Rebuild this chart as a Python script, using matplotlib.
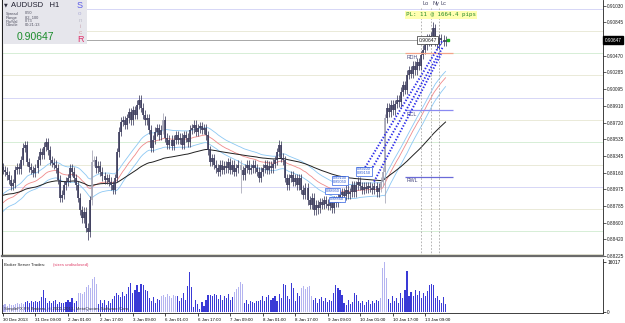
"""
AUDUSD H1 chart (MT4 style) with Sonic R dragon, session lines and broker trades panel.
"""
import numpy as np
import matplotlib.pyplot as plt
from matplotlib.patches import Rectangle

plt.rcParams['font.family'] = ['Liberation Sans', 'DejaVu Sans']

W, H = 625, 323

# ---- data ----
closes = [
    0.8919, 0.8917, 0.8913, 0.8908, 0.8901, 0.8904, 0.8919, 0.8922, 0.8920, 0.8930,
    0.8944, 0.8947, 0.8928, 0.8922, 0.8919, 0.8916, 0.8921, 0.8930, 0.8939, 0.8936,
    0.8945, 0.8950, 0.8941, 0.8930, 0.8927, 0.8925, 0.8921, 0.8908, 0.8888, 0.8891,
    0.8902, 0.8906, 0.8910, 0.8921, 0.8917, 0.8910, 0.8902, 0.8888, 0.8874, 0.8865,
    0.8872, 0.8854, 0.8849, 0.8885, 0.8928, 0.8930, 0.8921, 0.8924, 0.8917, 0.8912,
    0.8908, 0.8910, 0.8906, 0.8902, 0.8897, 0.8910, 0.8939, 0.8962, 0.8973, 0.8975,
    0.8970, 0.8977, 0.8984, 0.8975, 0.8986, 0.8981, 0.8992, 0.8998, 0.8989, 0.8981,
    0.8975, 0.8977, 0.8964, 0.8944, 0.8953, 0.8962, 0.8966, 0.8958, 0.8964, 0.8975,
    0.8955, 0.8947, 0.8953, 0.8946, 0.8953, 0.8958, 0.8953, 0.8955, 0.8947, 0.8958,
    0.8955, 0.8950, 0.8964, 0.8966, 0.8970, 0.8962, 0.8966, 0.8968, 0.8964, 0.8966,
    0.8958, 0.8941, 0.8928, 0.8932, 0.8925, 0.8921, 0.8917, 0.8925, 0.8919, 0.8924,
    0.8921, 0.8928, 0.8919, 0.8925, 0.8917, 0.8921, 0.8925, 0.8919, 0.8913, 0.8921,
    0.8925, 0.8919, 0.8921, 0.8925, 0.8921, 0.8917, 0.8910, 0.8917, 0.8921, 0.8925,
    0.8919, 0.8924, 0.8921, 0.8926, 0.8930, 0.8939, 0.8947, 0.8933, 0.8930, 0.8910,
    0.8902, 0.8910, 0.8913, 0.8906, 0.8910, 0.8902, 0.8910, 0.8897, 0.8891, 0.8899,
    0.8885, 0.8880, 0.8888, 0.8874, 0.8880, 0.8876, 0.8883, 0.8880, 0.8885, 0.8881,
    0.8879, 0.8883, 0.8876, 0.8885, 0.8882, 0.8888, 0.8891, 0.8894, 0.8890, 0.8897,
    0.8892, 0.8894, 0.8902, 0.8894, 0.8902, 0.8906, 0.8901, 0.8897, 0.8900, 0.8898,
    0.8901, 0.8899, 0.8897, 0.8901, 0.8894, 0.8899, 0.8906, 0.8917, 0.8977, 0.8989,
    0.8984, 0.8992, 0.8986, 0.8993, 0.8998, 0.8995, 0.9007, 0.9014, 0.9009, 0.9026,
    0.9031, 0.9027, 0.9036, 0.9031, 0.9040, 0.9036, 0.9048, 0.9054, 0.9059, 0.9067,
    0.9063, 0.9069, 0.9078, 0.9063, 0.9060, 0.9067, 0.9065, 0.9063, 0.90647,
]
first_open = 0.8922
hi_spikes = {44: 0.8941, 79: 0.8983, 136: 0.8953, 212: 0.9085}
lo_spikes = {42: 0.8840, 117: 0.8893, 155: 0.8870, 188: 0.8882}
light_candles = [44, 45, 79, 117, 186, 187, 188]

trades = [
    2200, 2500, 2000, 2600, 2400, 2300, 2600, 2800, 2500, 3000,
    2700, 3200, 3500, 3000, 3400, 3300, 3600, 3100, 3500, 4800,
    7000, 4500, 3000, 3600, 2800, 3400, 3800, 2600, 3200, 3000,
    2800, 3300, 4000, 3200, 4500, 3000, 3600, 6000, 6200, 5800,
    6400, 8000, 8500, 7800, 10500, 11200, 9000, 2500, 3800, 3000,
    4000, 2200, 3400, 2800, 4200, 5000, 6200, 5500, 4800, 6500,
    5200, 5800, 8000, 9200, 6000, 7000, 8800, 6500, 9000, 8600,
    7200, 6800, 4500, 3500, 4800, 3000, 4200, 3800, 5000, 5500,
    4800, 5800, 5200, 4600, 5600, 5000, 5200, 3500, 4500, 6000,
    4000, 8300, 12800, 8000, 1500, 3800, 2500, 900, 3200, 2000,
    4000, 5400, 5600, 5000, 5800, 5300, 4200, 5500, 3800, 5000,
    4500, 5700, 4000, 4800, 6500, 7500, 8000, 9500, 9000, 3000,
    3800, 2500, 3500, 3200, 2800, 3600, 3400, 4000, 5200, 3600,
    4800, 5500, 3900, 4600, 5200, 3400, 5800, 4400, 9000, 8600,
    5000, 4200, 9200, 7800, 3600, 6000, 5000, 7800, 8200, 7500,
    8000, 8400, 5000, 3800, 4500, 3000, 4200, 4800, 3500, 4400,
    3200, 4000, 3600, 6000, 8500, 7800, 7000, 5600, 3000, 2200,
    3800, 2600, 3300, 6000, 5600, 3500, 2800, 3600, 2400, 3200,
    3800, 2600, 3400, 3000, 4000, 3500, 4500, 14000, 16017, 11000,
    4200, 3000, 5000, 3600, 4500, 2800, 6000, 4500, 7000, 13000,
    5000, 6500, 5000, 7000, 5500, 6800, 4500, 6000, 5200, 6600,
    8800, 9000, 8500, 4500, 5000, 4000, 3000, 4800, 2500,
]
light_trades = [(0, 10), (37, 46), (78, 85), (114, 118), (147, 152), (186, 189)]

time_labels = ['30 Dec 2013', '31 Dec 09:00', '2 Jan 01:00', '2 Jan 17:00', '3 Jan 09:00',
               '6 Jan 01:00', '6 Jan 17:00', '7 Jan 09:00', '8 Jan 01:00', '8 Jan 17:00',
               '9 Jan 09:00', '10 Jan 01:00', '10 Jan 17:00', '13 Jan 09:00']
price_ticks = [0.91030, 0.90845, 0.90470, 0.90285, 0.90095, 0.89910, 0.89720, 0.89535,
               0.89345, 0.89160, 0.88975, 0.88785, 0.88600, 0.88420, 0.88225]
round_levels = [0.9100, 0.9075, 0.9050, 0.9025, 0.9000, 0.8975, 0.8950, 0.8925,
                0.8900, 0.8875, 0.8850, 0.8825]
bid = 0.90647

levels = {'RDH': 0.9050, 'RCL': 0.8986, 'RWL': 0.8911}
sessions = [(206, 'Lo'), (211, 'Ny'), (215, 'Lc')]
trend_lines = [((177.6, 0.8919), (216.7, 0.9065)),
               ((179.8, 0.8913), (216.7, 0.9057)),
               ((182.8, 0.8906), (215.8, 0.9049))]
trade_tags = [(174.5, 0.89175, '0.89200\n0.89150'),
              (162.5, 0.89075, '0.89100\n0.89050'),
              (159.0, 0.88955, '0.88950'),
              (161.0, 0.88860, '0.88860')]

# seeds for the moving averages (values just before the first bar)
dragon_seed = 0.8880
ema89_seed = 0.8890
WICK = 0.0005   # visual wick beyond the body


def ema(values, n, seed):
    k = 2.0 / (n + 1)
    out, e = [], seed
    for v in values:
        e = e + k * (v - e)
        out.append(e)
    return np.array(out)


c = np.array(closes)
o = np.array([first_open] + closes[:-1])
idx = np.arange(len(c))
hi = np.maximum(o, c) + WICK
lo = np.minimum(o, c) - WICK
for i, v in hi_spikes.items():
    hi[i] = max(hi[i], v)
for i, v in lo_spikes.items():
    lo[i] = min(lo[i], v)

fig = plt.figure(figsize=(W / 100, H / 100), dpi=100)
fig.patch.set_facecolor('white')
ax = fig.add_axes([2 / W, 1 - 256 / H, 601 / W, 256 / H])
axv = fig.add_axes([2 / W, 1 - 313 / H, 601 / W, 54 / H])

XMAX = (603 - 3) / 2.03
ax.set_xlim(-0.5, XMAX)
ax.set_ylim(0.88225, 0.91097)

# round-number levels
for lv in round_levels:
    frac = round(lv * 10000) % 100
    col = '#d6d6f6' if frac == 0 else ('#d6eed6' if frac == 50 else '#eaead8')
    ax.axhline(lv, color=col, lw=0.7, zorder=0.5)

# dragon + ema89
ax.plot(idx, ema(hi, 34, dragon_seed + 0.0010), color='#8cc8f4', lw=0.6, zorder=1)
ax.plot(idx, ema(lo, 34, dragon_seed - 0.0010), color='#8cc8f4', lw=0.6, zorder=1)
ax.plot(idx, ema(c, 34, dragon_seed), color='#f08a8a', lw=0.6, zorder=1)
ax.plot(idx, ema(c, 89, ema89_seed), color='#202020', lw=0.7, zorder=1)

# candles
cols = ['#a4a4b4' if i in light_candles else '#3c3c5c' for i in idx]
ax.vlines(idx, lo, hi, colors=cols, lw=0.55, zorder=2)
ax.vlines(idx, np.minimum(o, c), np.maximum(o, c), colors=cols, lw=1.2, zorder=2)

# current bid line and tag
ax.hlines(bid, -0.5, 204.5, color='#9a9a9a', lw=0.6, zorder=1.5)
ax.text(204.8, bid, '%.5f' % bid, fontsize=3.6, va='center', ha='left', color='#202020',
        zorder=5, bbox=dict(boxstyle='square,pad=0.25', facecolor='white',
                            edgecolor='#303030', lw=0.5))
ax.plot([219.3], [bid], 's', color='#20b020', ms=1.6, zorder=5)

# session lines
for b, name in sessions:
    ax.vlines(b, 0.88225, 0.91012, color='#a8a8a8', lw=0.6, ls=(0, (2, 2)), zorder=1.5)
    ax.text(b + 0.6, 0.9106, name, fontsize=4, color='#404060', ha='left', va='center')

ax.text(198.5, 0.9093, 'PL: 11 @ 1664.4 pips', family='DejaVu Sans Mono', fontsize=4.2,
        color='#2a8a2a', ha='left', va='center',
        bbox=dict(boxstyle='square,pad=0.2', facecolor='#ffffb0', edgecolor='none'))

# reference levels
level_cols = {'RDH': '#f2a488', 'RCL': '#8a8af2', 'RWL': '#6a6ad8'}
for name, lv in levels.items():
    ax.hlines(lv, 198, 221.7, color=level_cols[name], lw=0.9, zorder=3)
    ax.text(199, lv - 0.00015, name, fontsize=3.8, color='#4a4a80', ha='left', va='top')

# trend channel
for (x0, y0), (x1, y1) in trend_lines:
    ax.plot([x0, x1], [y0, y1], color='#2a2ae8', lw=1.4, ls=(0, (0.7, 0.9)), zorder=3)

for bx, by, txt in trade_tags:
    ax.text(bx, by, txt, fontsize=2.8, color='#2050d0', ha='left', va='center',
            linespacing=0.9, zorder=4,
            bbox=dict(boxstyle='square,pad=0.2', facecolor='white',
                      edgecolor='#3060e0', lw=0.5))

# axis styling (main)
ax.spines['top'].set_visible(False)
ax.spines['left'].set_color('#202020')
ax.spines['left'].set_linewidth(0.8)
ax.spines['right'].set_color('#202020')
ax.spines['right'].set_linewidth(0.6)
ax.spines['bottom'].set_color('#6a6a6a')
ax.spines['bottom'].set_linewidth(1.6)
ax.set_yticks(price_ticks)
ax.set_yticklabels(['%.5f' % p for p in price_ticks])
ax.tick_params(axis='y', left=False, labelleft=False, right=True, labelright=True,
               length=2, width=0.5, labelsize=3.4, pad=1.0, colors='#202020')
ax.tick_params(axis='x', bottom=False, labelbottom=False)

# current price on the right scale
fig.text(604.5 / W, 1 - 40 / H, '%.5f' % bid, fontsize=3.4, color='white', ha='left',
         va='center', bbox=dict(boxstyle='square,pad=0.25', facecolor='black',
                                edgecolor='black'))

# ---- trades panel ----
vcols = []
for i in idx:
    light = any(a <= i <= b for a, b in light_trades)
    vcols.append('#b4b4f0' if light else '#3a3ad6')
axv.bar(idx, trades, width=0.55, color=vcols, linewidth=0)
axv.set_xlim(-0.5, XMAX)
axv.set_ylim(-320, 16980)
axv.spines['top'].set_visible(False)
for s in ['left', 'bottom', 'right']:
    axv.spines[s].set_color('#202020')
    axv.spines[s].set_linewidth(0.6)
axv.set_yticks([0, 16017])
axv.set_yticklabels(['0', '16017'])
axv.tick_params(axis='y', left=False, labelleft=False, right=True, labelright=True,
                length=2, width=0.5, labelsize=3.4, pad=1.0)
axv.set_xticks(np.arange(len(time_labels)) * 16)
axv.set_xticklabels(time_labels)
axv.tick_params(axis='x', length=2, width=0.5, labelsize=3.2, pad=1.5)
for lab in axv.get_xticklabels():
    lab.set_ha('left')

fig.text(4 / W, 1 - 265 / H, 'Broker Server Trades:', fontsize=3.1, color='#202020',
         va='center', ha='left')
fig.text(53 / W, 1 - 265 / H, '(sizes undisclosed)', fontsize=3.1, color='#e0406a',
         va='center', ha='left')
fig.text(4 / W, 1 - 309 / H, 'SimpleFX FX Brokers, \u00a9 2001-2013, MetaQuotes Software Corp.',
         fontsize=3.2, color='#303040', va='center', ha='left')

# ---- info box (top left) ----
fig.patches.append(Rectangle((3 / W, 1 - 44 / H), 84 / W, 44 / H, transform=fig.transFigure,
                             facecolor='#e6e6ec', edgecolor='none', zorder=5))
fig.text(4 / W, 1 - 5 / H, '\u25bc', fontsize=3.5, color='#303040', va='center',
         family='DejaVu Sans', zorder=6)
fig.text(11 / W, 1 - 5.5 / H, 'AUDUSD   H1', fontsize=5.5, color='#202030', va='center',
         zorder=6)
info_rows = [('Spread', '0.50'), ('Range', '82, 100'), ('Pip/Val', '0.73'),
             ('Candle', '00:21:13')]
for k, (name, val) in enumerate(info_rows):
    yy = 1 - (13.5 + 4 * k) / H
    fig.text(6 / W, yy, name, fontsize=2.9, color='#505060', va='center', zorder=6)
    fig.text(25 / W, yy, val, fontsize=2.9, color='#505060', va='center', zorder=6)
fig.text(17 / W, 1 - 37 / H, '%.5f' % bid, fontsize=7.5, color='#1a8c2a', va='center',
         zorder=6)
sonic = [('S', '#5a5ae8', 6.5, 5.5), ('o', '#b0b0d8', 4.5, 13.5), ('n', '#c0c0cc', 4.5, 20),
         ('i', '#caa8b4', 4.5, 26), ('c', '#d89a9a', 4.5, 32), ('R', '#e0306a', 6.5, 39)]
for ch, col, fs, yy in sonic:
    fig.text(80 / W, 1 - yy / H, ch, fontsize=fs, color=col, ha='center', va='center',
             zorder=6)

fig.savefig('out.png', dpi=100)
